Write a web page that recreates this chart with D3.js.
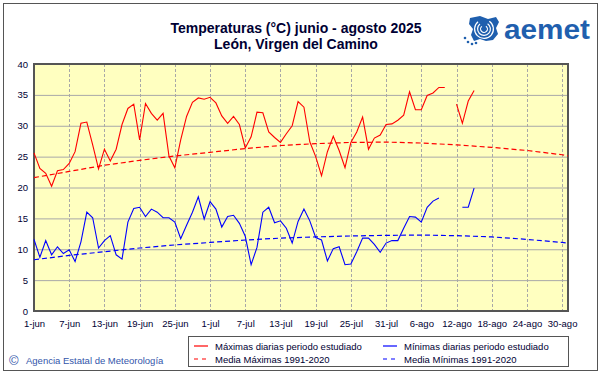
<!DOCTYPE html>
<html>
<head>
<meta charset="utf-8">
<script src="https://cdn.jsdelivr.net/npm/d3@7"></script>
<style>
    body { margin: 0; background: #fff; }
    svg { display: block; }
</style>
</head>
<body>
<svg id="chart" width="601" height="374"></svg>
<script>
// Ticks of the day axis (day 0 = 1 June)
var tickDays = [0, 6, 12, 18, 24, 30, 36, 42, 48, 54, 60, 66, 72, 78, 84, 90];
var tickLabels = ["1-jun", "7-jun", "13-jun", "19-jun", "25-jun", "1-jul", "7-jul", "13-jul",
    "19-jul", "25-jul", "31-jul", "6-ago", "12-ago", "18-ago", "24-ago", "30-ago"];
var yTicks = [0, 5, 10, 15, 20, 25, 30, 35, 40];

// Daily maxima / minima, one value per day from 1 June (null = no data)
var maxDaily = [25.6, 23.1, 22.3, 20.2, 22.7, 22.9, 23.9, 25.8, 30.4, 30.6,
    26.9, 23.0, 26.2, 24.3, 26.2, 30.2, 32.8, 33.5, 27.7, 33.6,
    32.0, 30.9, 32.0, 25.1, 23.2, 27.7, 31.5, 33.8, 34.5, 34.3,
    34.6, 33.7, 31.6, 30.4, 31.5, 30.2, 26.4, 28.2, 32.2, 32.1,
    29.0, 28.1, 27.3, 28.7, 30.0, 33.9, 33.0, 27.4, 25.0, 21.9,
    25.8, 28.3, 26.0, 23.2, 27.3, 29.0, 31.4, 26.2, 28.0, 28.5,
    30.2, 30.3, 30.9, 31.7, 35.5, 32.6, 32.6, 34.9, 35.3, 36.2,
    36.2, null, 33.5, 30.4, 34.0, 35.7];
var minDaily = [11.6, 8.7, 11.4, 9.1, 10.4, 9.3, 9.9, 8.0, 11.2, 16.0,
    15.1, 10.2, 11.4, 12.2, 9.1, 8.4, 14.4, 16.6, 16.8, 15.3,
    16.5, 16.0, 15.1, 15.1, 14.4, 11.7, 13.9, 16.0, 18.5, 14.9,
    17.7, 16.5, 13.6, 15.3, 15.5, 14.2, 12.1, 7.5, 10.3, 16.0,
    16.8, 14.3, 14.6, 13.4, 11.0, 14.5, 16.5, 14.6, 11.9, 11.5,
    8.1, 10.1, 10.4, 7.5, 7.6, 9.6, 11.8, 11.8, 10.8, 9.5,
    11.0, 11.4, 11.4, 13.4, 15.3, 15.2, 14.4, 16.8, 17.8, 18.3,
    null, null, null, 16.8, 16.8, 19.9];

// 1991-2020 means
var normDays = [0, 6, 12, 18, 24, 30, 36, 42, 48, 54, 60, 66, 72, 78, 84, 90, 91];
var normMax = [21.6, 22.6, 23.6, 24.4, 25.1, 25.7, 26.3, 26.8, 27.1, 27.3, 27.35, 27.2, 26.9, 26.5, 26.0, 25.3, 25.1];
var normMin = [8.3, 9.0, 9.6, 10.2, 10.7, 11.1, 11.5, 11.8, 12.0, 12.15, 12.25, 12.3, 12.2, 12.0, 11.6, 11.1, 11.0];

var legendItems = [
    { label: "Máximas diarias periodo estudiado", color: "#ff0000", dash: null },
    { label: "Mínimas diarias periodo estudiado", color: "#0000ff", dash: null },
    { label: "Media Máximas 1991-2020", color: "#ff0000", dash: "4,4" },
    { label: "Media Mínimas 1991-2020", color: "#0000ff", dash: "4,4" }
];

(function (d3) {
    var svg = d3.select("#chart");
    var font = "'Liberation Sans', Arial, sans-serif";
    var textColor = "#000033";

    var plot = { left: 34, right: 568, top: 64, bottom: 311 };

    var x = d3.scaleLinear().domain([0, 91]).range([plot.left, plot.right]);
    var y = d3.scaleLinear().domain([0, 40]).range([plot.bottom, plot.top]);

    // outer frame
    svg.append("rect")
        .attr("x", 3.5).attr("y", 3.5)
        .attr("width", 594).attr("height", 367)
        .attr("fill", "#fff")
        .attr("stroke", "#555")
        .attr("stroke-width", 1);

    // title
    var title = svg.append("g")
        .attr("font-family", "'Liberation Sans Narrow', 'Arial Narrow', " + font)
        .attr("font-weight", "bold")
        .attr("font-size", 14)
        .attr("fill", textColor)
        .attr("text-anchor", "middle");
    title.append("text").attr("x", 296).attr("y", 33).text("Temperaturas (°C) junio - agosto 2025");
    title.append("text").attr("x", 296).attr("y", 49).text("León, Virgen del Camino");

    // aemet logo
    var logo = svg.append("g").attr("transform", "translate(466,14)");
    var blue = "#1f5fae";
    logo.append("path")
        .attr("d", "M4,4 L14,2 L22,5 L30,3 L33,8 L30,14 L32,20 L27,26 L20,27 L14,25 L8,27 L5,21 L7,15 L3,10 Z")
        .attr("fill", blue);
    [4, 7, 10].forEach(function (r) {
        logo.append("path")
            .attr("d", d3.arc()({ innerRadius: r - 1.2, outerRadius: r, startAngle: 0.6, endAngle: 5.6 }))
            .attr("transform", "translate(18,15)")
            .attr("fill", "#fff");
    });
    [[2, 28], [6, 30], [10, 29], [-1, 24]].forEach(function (p) {
        logo.append("circle").attr("cx", p[0]).attr("cy", p[1]).attr("r", 1.3).attr("fill", blue);
    });
    logo.append("text")
        .attr("x", 38).attr("y", 25)
        .attr("font-family", font)
        .attr("font-weight", "bold")
        .attr("font-size", 28)
        .attr("textLength", 86)
        .attr("lengthAdjust", "spacingAndGlyphs")
        .attr("fill", blue)
        .text("aemet");

    // plot background
    svg.append("rect")
        .attr("x", plot.left).attr("y", plot.top)
        .attr("width", plot.right - plot.left)
        .attr("height", plot.bottom - plot.top)
        .attr("fill", "#ffffc0");

    // horizontal grid
    svg.append("g")
        .selectAll("line")
        .data(yTicks.slice(1, -1))
        .enter().append("line")
            .attr("x1", plot.left).attr("x2", plot.right)
            .attr("y1", function (d) { return y(d) + 0.5; })
            .attr("y2", function (d) { return y(d) + 0.5; })
            .attr("stroke", "#a8a8a8")
            .attr("stroke-width", 1);

    // vertical grid (dashed)
    svg.append("g")
        .selectAll("line")
        .data(tickDays.slice(1))
        .enter().append("line")
            .attr("x1", function (d) { return Math.round(x(d)) + 0.5; })
            .attr("x2", function (d) { return Math.round(x(d)) + 0.5; })
            .attr("y1", plot.top).attr("y2", plot.bottom)
            .attr("stroke", "#a8a8a8")
            .attr("stroke-dasharray", "3,2");

    // plot border
    svg.append("rect")
        .attr("x", plot.left).attr("y", plot.top)
        .attr("width", plot.right - plot.left)
        .attr("height", plot.bottom - plot.top)
        .attr("fill", "none")
        .attr("stroke", "#555")
        .attr("stroke-width", 2);

    // axes (labels only)
    var yAxis = svg.append("g")
        .attr("transform", "translate(" + (plot.left - 4) + ",0)")
        .call(d3.axisLeft(y).tickValues(yTicks).tickSize(0).tickPadding(2));
    var xAxis = svg.append("g")
        .attr("transform", "translate(0," + (plot.bottom + 6) + ")")
        .call(d3.axisBottom(x).tickValues(tickDays).tickSize(0).tickPadding(3)
            .tickFormat(function (d, i) { return tickLabels[i]; }));
    [yAxis, xAxis].forEach(function (ax) {
        ax.select(".domain").remove();
        ax.selectAll("text")
            .attr("font-family", font)
            .attr("font-size", 9.5)
            .attr("fill", textColor);
    });

    // series
    var dailyLine = d3.line()
        .defined(function (d) { return d != null; })
        .x(function (d, i) { return x(i); })
        .y(function (d) { return y(d); });
    var normLine = d3.line()
        .x(function (d, i) { return x(normDays[i]); })
        .y(function (d) { return y(d); });

    svg.append("path").datum(normMax)
        .attr("d", normLine).attr("fill", "none")
        .attr("stroke", "#ff0000").attr("stroke-width", 1.2).attr("stroke-dasharray", "5,3");
    svg.append("path").datum(normMin)
        .attr("d", normLine).attr("fill", "none")
        .attr("stroke", "#0000ff").attr("stroke-width", 1.2).attr("stroke-dasharray", "5,3");
    svg.append("path").datum(maxDaily)
        .attr("d", dailyLine).attr("fill", "none")
        .attr("stroke", "#ff0000").attr("stroke-width", 1.1);
    svg.append("path").datum(minDaily)
        .attr("d", dailyLine).attr("fill", "none")
        .attr("stroke", "#0000ff").attr("stroke-width", 1.1);

    // legend
    var legend = svg.append("g").attr("transform", "translate(188,336)");
    legend.append("rect")
        .attr("x", 0.5).attr("y", 0.5)
        .attr("width", 380).attr("height", 30)
        .attr("fill", "#fff")
        .attr("stroke", "#555");
    var items = legend.selectAll("g.item")
        .data(legendItems)
        .enter().append("g")
            .attr("class", "item")
            .attr("transform", function (d, i) {
                return "translate(" + (i % 2 ? 195 : 6) + "," + (i < 2 ? 10 : 23) + ")";
            });
    items.append("line")
        .attr("x1", 0).attr("x2", 14)
        .attr("stroke", function (d) { return d.color; })
        .attr("stroke-width", 1.2)
        .attr("stroke-dasharray", function (d) { return d.dash; });
    items.append("text")
        .attr("x", 21).attr("y", 3.5)
        .attr("font-family", font)
        .attr("font-size", 9.5)
        .attr("fill", textColor)
        .text(function (d) { return d.label; });

    // footer
    var footer = svg.append("g").attr("fill", "#3355aa").attr("font-family", font);
    footer.append("text")
        .attr("x", 9).attr("y", 365)
        .attr("font-size", 13)
        .text("©");
    footer.append("text")
        .attr("x", 26).attr("y", 364)
        .attr("font-size", 9.5)
        .text("Agencia Estatal de Meteorología");
}).call(this, d3);
</script>
</body>
</html>
